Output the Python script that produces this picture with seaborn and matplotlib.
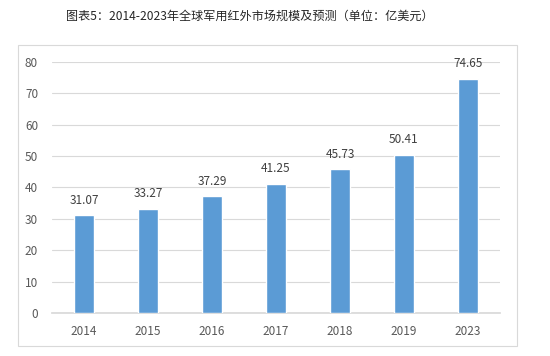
import matplotlib
matplotlib.use("Agg")
import matplotlib.pyplot as plt
import seaborn as sns
import pandas as pd
from matplotlib.patches import Rectangle

# 数据
years = ["2014", "2015", "2016", "2017", "2018", "2019", "2023"]
values = [31.07, 33.27, 37.29, 41.25, 45.73, 50.41, 74.65]
title = "图表5：2014-2023年全球军用红外市场规模及预测（单位：亿美元）"

df = pd.DataFrame({"year": years, "value": values})

sns.set_theme(style="white")
plt.rcParams['font.family'] = ['Noto Sans CJK SC', 'DejaVu Sans']

fig = plt.figure(figsize=(5.5, 3.56), dpi=100)
ax = fig.add_axes([0.0945, 0.121, 0.8145, 0.705])

# 外框
fig.patches.append(Rectangle((0.0327, 0.028), 0.907, 0.846, transform=fig.transFigure,
                             fill=False, edgecolor="#d9d9d9", linewidth=0.8))

sns.barplot(data=df, x="year", y="value", color="#5b9bd5", width=0.32,
            saturation=1, ax=ax, zorder=3)

for i, v in enumerate(values):
    ax.annotate(f"{v:.2f}", (i, v), xytext=(0, 6), textcoords="offset points",
                ha="center", va="bottom", fontsize=8.5, color="#404040")

ax.set_ylim(0, 80)
ax.set_yticks(range(0, 81, 10))
ax.set_xlim(-0.5, len(years) - 0.5)
ax.yaxis.grid(True, color="#d9d9d9", linewidth=0.8, zorder=0)
ax.set_xlabel("")
ax.set_ylabel("")
for s in ["top", "right", "left"]:
    ax.spines[s].set_visible(False)
ax.spines["bottom"].set_color("#d9d9d9")
ax.tick_params(axis="both", length=0, labelsize=8.5, colors="#595959")
ax.tick_params(axis="y", pad=10)
ax.tick_params(axis="x", pad=9)

fig.text(0.455, 0.955, title, ha="center", va="center", fontsize=8.7, color="#262626")

fig.savefig("out.png", dpi=100)
